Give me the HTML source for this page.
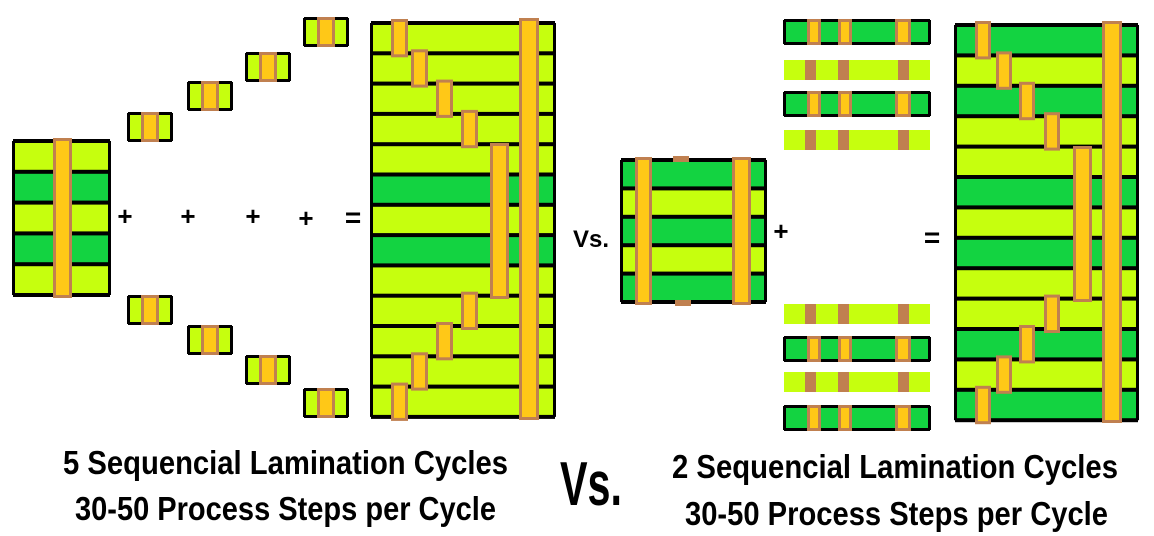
<!DOCTYPE html>
<html><head><meta charset="utf-8"><style>
html,body{margin:0;padding:0;background:#fff;width:1154px;height:536px;overflow:hidden}
svg{display:block}
text{font-family:"Liberation Sans",sans-serif;font-weight:bold;fill:#000}
</style></head><body>
<svg id="s" width="1154" height="536" viewBox="0 0 1154 536" xmlns="http://www.w3.org/2000/svg">
<g id="g"></g>
<text x="125" y="225" font-size="26" text-anchor="middle">+</text>
<text x="188" y="225" font-size="26" text-anchor="middle">+</text>
<text x="253" y="225" font-size="26" text-anchor="middle">+</text>
<text x="306" y="227" font-size="26" text-anchor="middle">+</text>
<text x="353" y="227" font-size="28" text-anchor="middle">=</text>
<text x="591" y="247" font-size="24" text-anchor="middle">Vs.</text>
<text x="781" y="240" font-size="26" text-anchor="middle">+</text>
<text x="932" y="247" font-size="28" text-anchor="middle">=</text>
<text x="63" y="474" font-size="33" textLength="445" lengthAdjust="spacingAndGlyphs">5 Sequencial Lamination Cycles</text>
<text x="75" y="520" font-size="33" textLength="421" lengthAdjust="spacingAndGlyphs">30-50 Process Steps per Cycle</text>
<text x="560" y="505" font-size="62" textLength="62" lengthAdjust="spacingAndGlyphs">Vs.</text>
<text x="672" y="478" font-size="33" textLength="446" lengthAdjust="spacingAndGlyphs">2 Sequencial Lamination Cycles</text>
<text x="685" y="525" font-size="33" textLength="423" lengthAdjust="spacingAndGlyphs">30-50 Process Steps per Cycle</text>
</svg>
<script>
var L="#c6ff0e",G="#13d341",O="#ffc817",B="#c08050",K="#000";
var g=document.getElementById("g"),out="";
function r(x,y,w,h,f,st,sw){out+='<rect x="'+x+'" y="'+y+'" width="'+w+'" height="'+h+'" fill="'+f+'"'+(st?' stroke="'+st+'" stroke-width="'+(sw||3)+'"':'')+'/>';}
function via(x,y,w,h){r(x,y,w,h,B);r(x+3,y+3,w-6,h-6,O);}
function stack(x,y,w,rows,rh){rows.forEach(function(c,i){r(x,y+i*rh,w,rh,c==1?G:L);});
 for(var i=0;i<=rows.length;i++)r(x,y+i*rh-2,w,4,K);r(x-1,y,3,rows.length*rh,K);r(x+w-2,y,3,rows.length*rh,K);}
// left small stack
stack(13,141,97,[0,1,0,1,0],30.8);via(53,138,19,160);
// small pieces
function piece(x,y,w,h){r(x,y,w,h,L);r(x,y-1,w,3,K);r(x,y+h-2,w,3,K);r(x-1,y,3,h,K);r(x+w-2,y,3,h,K);via(x+w/2-9,y-1,18,h+2);}
[[128,113],[188,82],[246,53],[304,18],[128,296],[188,326],[246,356],[304,389]].forEach(function(p){piece(p[0],p[1],44,28);});
// big left stack
var rh=30.3;stack(371,23,184,[0,0,0,0,0,1,0,1,0,0,0,0,0],rh);
via(519,18,20,402);via(490,143,19,156);
var sv=[[391,0],[411,1],[436,2],[461,3],[461,9],[436,10],[411,11],[391,12]];
sv.forEach(function(v){via(v[0],23+v[1]*rh-4,17,rh+8);});
// middle stack
stack(621,160,145,[1,0,1,0,1],28.4);
r(673,156,16,6,B);r(675,300,16,6,B);
via(635,157,17,148);via(732,157,19,148);
// strips
function strip(y,dark){var x=784,w=146,h=dark?24:20;
 if(dark){r(x,y,w,h,G);r(x,y-1,w,3,K);r(x,y+h-2,w,3,K);r(x-1,y,3,h,K);r(x+w-2,y,3,h,K);
  [[807,14],[838,14],[895,16]].forEach(function(v){via(v[0],y-1,v[1],h+2);});}
 else{r(x,y,w,h,L);[[805,11],[838,11],[898,11]].forEach(function(v){r(v[0],y,v[1],h,B);});}}
strip(20,1);strip(60,0);strip(92,1);strip(130,0);strip(304,0);strip(337,1);strip(372,0);strip(406,1);
// big right stack
var y0=25,rh2=30.4;stack(955,y0,183,[1,0,1,0,0,1,0,1,0,0,1,0,1],rh2);
via(1102,21,20,402);via(1073,146,19,156);
[[975,0],[996,1],[1019,2],[1044,3],[1044,9],[1019,10],[996,11],[975,12]].forEach(function(v){via(v[0],y0+v[1]*rh2-4,16,rh2+8);});
g.innerHTML=out;
</script>
</body></html>
